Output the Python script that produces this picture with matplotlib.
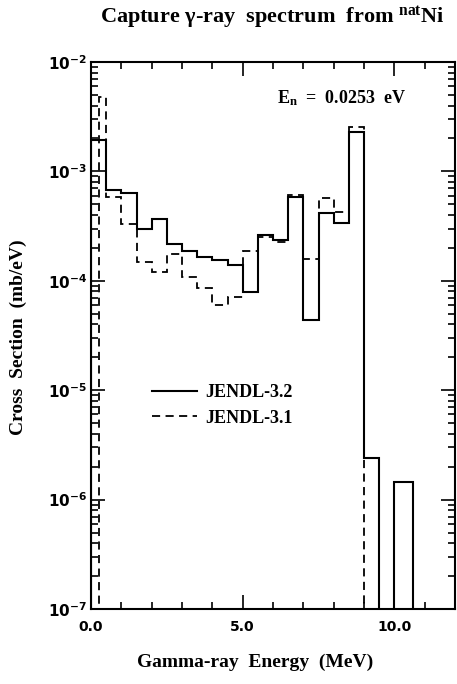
import numpy as np
import matplotlib
matplotlib.use("Agg")
import matplotlib.pyplot as plt
from matplotlib.ticker import FixedLocator, LogLocator, FuncFormatter, NullFormatter

# JENDL-3.2 (solid) group edges (MeV) and values (mb/eV)
edges_32 = [0.0, 0.5, 1.0, 1.5, 2.0, 2.5, 3.0, 3.5, 4.0, 4.5, 5.0, 5.5, 6.0,
            6.5, 7.0, 7.5, 8.0, 8.5, 9.0, 9.5, 10.0, 10.6]
vals_32 = [1.94e-3, 6.7e-4, 6.4e-4, 3.0e-4, 3.67e-4, 2.15e-4, 1.87e-4, 1.66e-4,
           1.55e-4, 1.39e-4, 7.85e-5, 2.62e-4, 2.36e-4, 5.87e-4, 4.4e-5, 4.14e-4,
           3.35e-4, 2.31e-3, 2.4e-6, 0.0, 1.44e-6]

# JENDL-3.1 (dashed)
edges_31 = [0.0, 0.25, 0.5, 1.0, 1.5, 2.0, 2.5, 3.0, 3.5, 4.0, 4.5, 5.0, 5.5,
            6.0, 6.5, 7.0, 7.5, 8.0, 8.5, 9.0]
vals_31 = [0.0, 4.75e-3, 5.88e-4, 3.28e-4, 1.48e-4, 1.2e-4, 1.75e-4, 1.09e-4,
           8.54e-5, 6.0e-5, 7.07e-5, 1.88e-4, 2.5e-4, 2.28e-4, 6.08e-4, 1.57e-4,
           5.75e-4, 4.28e-4, 2.56e-3]

serif = "Liberation Serif"
# serif mathtext only for the texts that ask for it (math_fontfamily="custom")
plt.rcParams["mathtext.rm"] = serif
plt.rcParams["mathtext.it"] = serif + ":italic"
plt.rcParams["mathtext.bf"] = serif + ":bold"
floor = 1e-9

fig = plt.figure(figsize=(4.57, 6.84), dpi=100)
ax = fig.add_axes([91/457, 1 - 609/684, 364/457, 547/684])

v32 = np.where(np.array(vals_32) > 0, vals_32, floor)
v31 = np.where(np.array(vals_31) > 0, vals_31, floor)
ax.stairs(v32, edges_32, baseline=floor, color="black", lw=1.5, label="JENDL-3.2")
ax.stairs(v31, edges_31, baseline=floor, color="black", lw=1.3,
          linestyle=(0, (4.5, 3)), label="JENDL-3.1")

ax.set_yscale("log")
ax.set_xlim(0, 12)
ax.set_ylim(1e-7, 1e-2)

ax.xaxis.set_major_locator(FixedLocator([0, 5, 10]))
ax.xaxis.set_minor_locator(FixedLocator(np.arange(0, 13, 1)))
ax.xaxis.set_major_formatter(FuncFormatter(lambda v, p: "%.1f" % v))
ax.yaxis.set_major_locator(LogLocator(base=10, numticks=10))
ax.yaxis.set_minor_locator(LogLocator(base=10, subs=np.arange(2, 10), numticks=20))
ax.yaxis.set_minor_formatter(NullFormatter())
ax.yaxis.set_major_formatter(FuncFormatter(
    lambda v, p: r"$\mathbf{10^{%d}}$" % round(np.log10(v))))

ax.tick_params(which="both", direction="in", top=True, right=True, width=1.2)
ax.tick_params(which="major", length=10)
ax.tick_params(which="minor", length=5)
ax.tick_params(axis="x", which="major", pad=8, labelsize=10)
ax.tick_params(axis="y", which="major", pad=3, labelsize=11)
for lab in ax.get_xticklabels():
    lab.set_fontweight("bold")
for sp in ax.spines.values():
    sp.set_linewidth(1.5)

ax.text(0.865, 0.934, r"E$_\mathbf{n}$  =  0.0253  eV", transform=ax.transAxes,
        ha="right", va="center", fontsize=13, fontweight="bold", family=serif,
        math_fontfamily="custom")

leg = ax.legend(loc="upper left", bbox_to_anchor=(0.168, 0.4105), frameon=False,
                prop={"family": serif, "weight": "bold", "size": 13},
                handlelength=2.5, handletextpad=0.45, labelspacing=0.45,
                borderpad=0, borderaxespad=0)

fig.text(272/457, 1 - 18/684, r"Capture γ-ray  spectrum  from $^{\mathbf{nat}}$Ni",
         ha="center", va="center", fontsize=16, fontweight="bold", family=serif,
         math_fontfamily="custom")
fig.text(255/457, 1 - 662/684, "Gamma-ray  Energy  (MeV)", ha="center", va="center",
         fontsize=14, fontweight="bold", family=serif)
fig.text(18/457, 1 - 337/684, "Cross  Section  (mb/eV)", ha="center", va="center",
         rotation=90, fontsize=14, fontweight="bold", family=serif)

fig.savefig("out.png", dpi=100)
